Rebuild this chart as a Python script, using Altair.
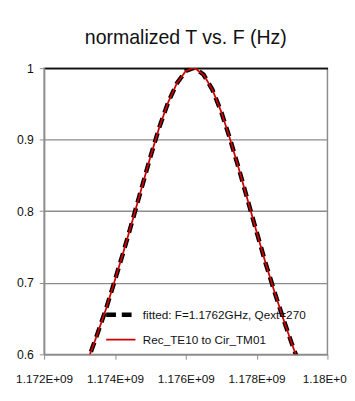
import altair as alt
import pandas as pd

# ---- data ----
freq_hz = [1.17300e9, 1.17325e9, 1.17350e9, 1.17375e9, 1.17400e9, 1.17425e9,
           1.17450e9, 1.17475e9, 1.17500e9, 1.17525e9, 1.17550e9, 1.17575e9,
           1.17600e9, 1.17620e9, 1.17625e9, 1.17650e9, 1.17675e9, 1.17700e9,
           1.17725e9, 1.17750e9, 1.17775e9, 1.17800e9, 1.17825e9, 1.17850e9,
           1.17875e9, 1.17900e9, 1.17925e9]
fitted_T = [0.563, 0.594, 0.628, 0.664, 0.704, 0.745, 0.788, 0.832, 0.876,
            0.917, 0.952, 0.979, 0.996, 1.000, 1.000, 0.991, 0.970, 0.939,
            0.901, 0.859, 0.815, 0.771, 0.728, 0.688, 0.650, 0.614, 0.581]
rec_T = [0.563, 0.594, 0.628, 0.664, 0.704, 0.745, 0.788, 0.832, 0.876,
         0.917, 0.952, 0.979, 0.996, 1.000, 1.000, 0.991, 0.970, 0.939,
         0.901, 0.859, 0.815, 0.771, 0.728, 0.688, 0.650, 0.614, 0.581]
series_names = ["fitted: F=1.1762GHz, Qext=270", "Rec_TE10 to Cir_TM01"]
x_ticks = [1.172e9, 1.174e9, 1.176e9, 1.178e9, 1.18e9]
y_ticks = [0.6, 0.7, 0.8, 0.9, 1.0]
title_text = "normalized T vs. F (Hz)"

rows = []
for f, a, b in zip(freq_hz, fitted_T, rec_T):
    rows.append({"f": f, "T": a, "s": series_names[0]})
    rows.append({"f": f, "T": b, "s": series_names[1]})
df = pd.DataFrame(rows)

FONT = "Liberation Sans"
GRAY = "#8c8c8c"

x_enc = alt.X("f:Q", scale=alt.Scale(domain=[x_ticks[0], x_ticks[-1]], nice=False, zero=False),
              axis=alt.Axis(values=x_ticks, title=None, grid=False,
                            labelExpr="format(datum.value/1e9, '.4~f') + 'E+09'",
                            labelFont=FONT, labelFontSize=12, labelColor="#111",
                            labelPadding=15, tickSize=5, tickColor=GRAY,
                            domainColor=GRAY, domainWidth=1.5, labelFlush=False,
                            labelOverlap=False))
y_enc = alt.Y("T:Q", scale=alt.Scale(domain=[y_ticks[0], y_ticks[-1]], nice=False, zero=False),
              axis=alt.Axis(values=y_ticks, title=None, format="~g", grid=True,
                            gridColor={"condition": {"test": "datum.value === 1", "value": "#111"},
                                       "value": GRAY},
                            gridWidth={"condition": {"test": "datum.value === 1", "value": 2},
                                       "value": 1.3},
                            labelFont=FONT, labelFontSize=12.5, labelColor="#111",
                            labelPadding=6, tickSize=5, tickColor=GRAY,
                            domainColor=GRAY, domainWidth=1.5))

color_enc = alt.Color("s:N", scale=alt.Scale(domain=series_names, range=["#000000", "#cc0000"]),
                      legend=alt.Legend(title=None, orient="none", legendX=61, legendY=235,
                                        symbolType="stroke", symbolSize=900,
                                        labelFont=FONT, labelFontSize=12, labelColor="#111",
                                        labelOffset=5, padding=0, rowPadding=-4,
                                        labelLimit=400))
dash_enc = alt.StrokeDash("s:N", scale=alt.Scale(domain=series_names, range=[[10, 6], [1, 0]]),
                          legend=alt.Legend(title=None))
width_enc = alt.StrokeWidth("s:N", scale=alt.Scale(type="point", padding=0, domain=series_names,
                                                    range=[4.5, 1.8]),
                            legend=alt.Legend(title=None))

base = alt.Chart(df).mark_line(clip=True).encode(
    x=x_enc, y=y_enc, color=color_enc, strokeDash=dash_enc, strokeWidth=width_enc
)
fitted_layer = base.transform_filter(alt.datum.s == series_names[0])
rec_layer = base.transform_filter(alt.datum.s == series_names[1])

chart = alt.layer(fitted_layer, rec_layer).properties(
    width=290, height=293,
    title=alt.TitleParams(title_text, font=FONT, fontSize=20, fontWeight="normal",
                          color="#111", anchor="middle", offset=15),
    autosize=alt.AutoSizeParams(type="none"),
    padding={"left": 37, "top": 57, "right": 20, "bottom": 35},
).configure_view(stroke=GRAY, strokeWidth=1.5)

chart.save("out.html", embed_options={"renderer": "svg", "actions": False})
